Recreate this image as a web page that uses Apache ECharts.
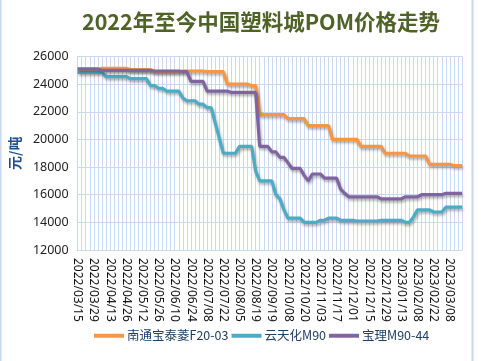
<!DOCTYPE html>
<html><head><meta charset="utf-8">
<script src="https://cdn.jsdelivr.net/npm/echarts@6/dist/echarts.min.js"></script>
<style>html,body{margin:0;padding:0;background:#fff}#c{width:485px;height:361px}</style>
</head><body><div id="c"></div>
<script>
const categories = [
'2022/03/15','2022/03/18','2022/03/22','2022/03/25','2022/03/29','2022/04/01','2022/04/06','2022/04/08',
'2022/04/13','2022/04/15','2022/04/19','2022/04/22','2022/04/26','2022/04/29','2022/05/06','2022/05/10',
'2022/05/12','2022/05/16','2022/05/19','2022/05/23','2022/05/26','2022/05/30','2022/06/02','2022/06/07',
'2022/06/10','2022/06/14','2022/06/17','2022/06/21','2022/06/24','2022/06/28','2022/07/01','2022/07/05',
'2022/07/08','2022/07/12','2022/07/15','2022/07/19','2022/07/22','2022/07/26','2022/07/29','2022/08/02',
'2022/08/05','2022/08/09','2022/08/12','2022/08/16','2022/08/19','2022/08/26','2022/09/02','2022/09/09',
'2022/09/19','2022/09/23','2022/09/28','2022/09/30','2022/10/08','2022/10/11','2022/10/14','2022/10/18',
'2022/10/20','2022/10/25','2022/10/28','2022/11/01','2022/11/03','2022/11/08','2022/11/11','2022/11/15',
'2022/11/17','2022/11/22','2022/11/25','2022/11/29','2022/12/01','2022/12/06','2022/12/09','2022/12/13',
'2022/12/15','2022/12/20','2022/12/23','2022/12/27','2022/12/29','2023/01/03','2023/01/06','2023/01/10',
'2023/01/13','2023/01/17','2023/01/31','2023/02/03','2023/02/08','2023/02/10','2023/02/14','2023/02/17',
'2023/02/22','2023/02/24','2023/02/28','2023/03/03','2023/03/08','2023/03/10','2023/03/14','2023/03/17'
];
const seriesNames = ['南通宝泰菱F20-03','云天化M90','宝理M90-44'];
const nantong = [
25050,25050,25050,25050,25050,25050,
25150,25150,25150,25150,25150,25150,25150,
25050,25050,25050,25050,25050,25050,
24900,24900,24900,24900,24900,24900,24900,
24950,24950,24950,24950,24950,24950,
24900,24900,24900,24900,24900,
24000,24000,24000,24000,24000,24000,
23900,23900,
21800,21800,21800,21800,21800,21800,21800,
21500,21500,21500,21500,21500,
21000,21000,21000,21000,21000,21000,
20000,20000,20000,20000,20000,20000,20000,
19500,19500,19500,19500,19500,19500,
19000,19000,19000,19000,19000,19000,
18800,18800,18800,18800,18800,
18200,18200,18200,18200,18200,18200,
18100,18100,18100
];
const yuntianhua = [
24850,24850,24850,24850,24850,24850,24850,
24550,24550,24550,24550,24550,24550,
24400,24400,24400,24400,24400,
23900,23900,
23700,23700,
23500,23500,23500,23500,
23000,
22800,22800,22800,
22550,22550,
22300,22300,
21200,
20100,
19000,19000,19000,19000,
19500,19500,19500,19500,
17700,
17000,17000,17000,17000,
16000,
15700,
14900,
14300,14300,14300,14300,
14000,14000,14000,14000,
14150,14150,
14300,14300,14300,
14150,14150,14150,14150,
14100,14100,14100,14100,14100,14100,
14150,14150,14150,14150,14150,14150,
14000,14000,
14400,
14900,14900,14900,14900,
14750,14750,14750,
15100,15100,15100,15100,15100
];
const baoli = [
25100,25100,25100,25100,25100,25100,
25000,25000,25000,25000,25000,25000,25000,25000,25000,25000,25000,25000,25000,
24950,24950,24950,24950,24950,24950,24950,
24900,24900,
24200,24200,24200,24200,
23500,23500,23500,23500,23500,23500,
23400,23400,23400,23400,23400,23400,23400,
19500,19500,19500,
19100,19100,
18700,18700,
18300,
17900,17900,17900,
17400,
17000,
17500,17500,17500,
17200,17200,17200,17200,
16400,
16100,
15850,15850,15850,15850,15850,15850,15850,15850,
15700,15700,15700,15700,15700,15700,
15850,15850,15850,15850,
16000,16000,16000,16000,16000,16000,
16100,16100,16100,16100,16100
];
const colors = ['#F79646','#4BACC6','#8064A2'];
const font = "'Noto Sans','Noto Sans CJK SC',sans-serif";
const chart = echarts.init(document.getElementById('c'));
const gridColor = '#C9DAEE';
function mk(name, data, color){
  return {name, type:'line', data, showSymbol:false, symbol:'none', smooth:false,
    lineStyle:{color, width:3.2, shadowColor:'rgba(0,0,0,0.35)', shadowBlur:3, shadowOffsetX:1, shadowOffsetY:2},
    itemStyle:{color}, emphasis:{disabled:true}, animation:false};
}
chart.setOption({
  animation:false,
  title:{text:'2022年至今中国塑料城POM价格走势', left:77, top:6,
    textStyle:{fontFamily:"'Noto Sans CJK SC',sans-serif", fontSize:21.5, fontWeight:'bold', color:'#4F6228'}},
  grid:{left:72, right:23, top:56.5, bottom:111, containLabel:false},
  legend:{bottom:14, left:89, itemWidth:30, itemHeight:4, itemGap:3, icon:'rect',
    textStyle:{fontFamily:"'Noto Sans CJK SC',sans-serif", fontSize:12.5, color:'#1F3F66', padding:[0,0,0,-2]},
    data:seriesNames},
  xAxis:{type:'category', data:categories, boundaryGap:false,
    axisLine:{lineStyle:{color:gridColor}}, axisTick:{show:false},
    axisLabel:{interval:3, rotate:-90, margin:8, fontFamily:font, fontSize:12, color:'#111'},
    splitLine:{show:true, interval:0, lineStyle:{color:gridColor, width:1}}},
  yAxis:{type:'value', min:12000, max:26000, interval:2000,
    name:'元/吨', nameLocation:'middle', nameGap:48, nameRotate:90,
    nameTextStyle:{fontFamily:"'Noto Sans CJK SC',sans-serif", fontSize:14, fontWeight:'bold', color:'#1F4E8C'},
    axisLine:{show:true, lineStyle:{color:gridColor}}, axisTick:{show:false},
    axisLabel:{margin:9, fontFamily:font, fontSize:12.5, color:'#222', formatter:function(v){return String(v);}},
    splitLine:{lineStyle:{color:gridColor, width:1}}},
  graphic:[{type:'rect', shape:{x:0.5,y:-2,width:472,height:370}, style:{fill:'none', stroke:'#C6D9F0', lineWidth:2}, silent:true}],
  series:[mk(seriesNames[0], nantong, colors[0]), mk(seriesNames[1], yuntianhua, colors[1]), mk(seriesNames[2], baoli, colors[2])]
});
</script></body></html>
